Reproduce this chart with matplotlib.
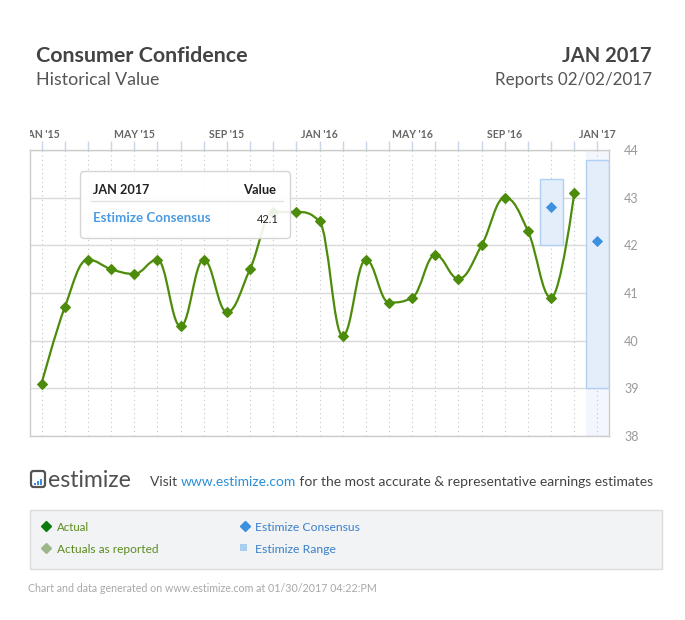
import matplotlib
matplotlib.use("Agg")
import matplotlib.pyplot as plt
from matplotlib.path import Path
from matplotlib.patches import PathPatch, Rectangle, FancyBboxPatch

# ---------------- data ----------------
month_labels = ["JAN '15", "FEB '15", "MAR '15", "APR '15", "MAY '15", "JUN '15",
                "JUL '15", "AUG '15", "SEP '15", "OCT '15", "NOV '15", "DEC '15",
                "JAN '16", "FEB '16", "MAR '16", "APR '16", "MAY '16", "JUN '16",
                "JUL '16", "AUG '16", "SEP '16", "OCT '16", "NOV '16", "DEC '16",
                "JAN '17"]
actual = [39.1, 40.7, 41.7, 41.5, 41.4, 41.7, 40.3, 41.7, 40.6, 41.5, 42.7, 42.7,
          42.5, 40.1, 41.7, 40.8, 40.9, 41.8, 41.3, 42.0, 43.0, 42.3, 40.9, 43.1]
consensus_months = ["NOV '16", "JAN '17"]
consensus = [42.8, 42.1]
range_low = [42.0, 39.0]
range_high = [43.4, 43.8]
y_ticks = [38, 39, 40, 41, 42, 43, 44]

plt.rcParams['font.family'] = ['Lato', 'DejaVu Sans']

W, H = 685, 620
fig = plt.figure(figsize=(W / 100, H / 100), dpi=100)
fig.patch.set_facecolor('white')

# plot area (pixels): left 30, right 609, top 150, bottom 436
ax = fig.add_axes([30 / W, (H - 436) / H, 579 / W, 286 / H])
ax.set_xlim(-0.5, len(month_labels) - 0.5)
ax.set_ylim(y_ticks[0], y_ticks[-1])

GREEN = '#4c8c0a'
BLUE = '#3d8fe0'

# highlight column of hovered month
hx = month_labels.index("JAN '17")
ax.axvspan(hx - 0.5, hx + 0.5, color='#f3f7fd', zorder=0.5, lw=0)

# estimize ranges
for m, lo, hi in zip(consensus_months, range_low, range_high):
    xi = month_labels.index(m)
    ax.add_patch(Rectangle((xi - 0.5, lo), 1.0, hi - lo, facecolor='#e4eefa',
                           edgecolor='#afd0f2', lw=1, zorder=1.5))


# Highcharts-like spline
def spline_path(xs, ys, smoothing=1.5):
    n = len(xs)
    left = [None] * n
    right = [None] * n
    for i in range(1, n - 1):
        lx, ly = xs[i - 1], ys[i - 1]
        nx, ny = xs[i + 1], ys[i + 1]
        px, py = xs[i], ys[i]
        d = smoothing + 1
        lcx = (smoothing * px + lx) / d
        lcy = (smoothing * py + ly) / d
        rcx = (smoothing * px + nx) / d
        rcy = (smoothing * py + ny) / d
        if rcx != lcx:
            corr = ((rcy - lcy) * (rcx - px)) / (rcx - lcx) + py - rcy
            lcy += corr
            rcy += corr
        if lcy > ly and lcy > py:
            lcy = max(ly, py); rcy = 2 * py - lcy
        elif lcy < ly and lcy < py:
            lcy = min(ly, py); rcy = 2 * py - lcy
        if rcy > ny and rcy > py:
            rcy = max(ny, py); lcy = 2 * py - rcy
        elif rcy < ny and rcy < py:
            rcy = min(ny, py); lcy = 2 * py - rcy
        left[i] = (lcx, lcy)
        right[i] = (rcx, rcy)
    verts = [(xs[0], ys[0])]
    codes = [Path.MOVETO]
    for i in range(1, n):
        c1 = right[i - 1] if right[i - 1] else (xs[i - 1], ys[i - 1])
        c2 = left[i] if left[i] else (xs[i], ys[i])
        verts += [c1, c2, (xs[i], ys[i])]
        codes += [Path.CURVE4] * 3
    return Path(verts, codes)


xs = list(range(len(actual)))
ax.add_patch(PathPatch(spline_path(xs, actual), facecolor='none', edgecolor=GREEN,
                       lw=1.6, zorder=3, capstyle='round', joinstyle='round'))
ax.plot(xs, actual, ls='none', marker='D', ms=4.8, mfc=GREEN, mec=GREEN, mew=0.8, zorder=4)

cx = [month_labels.index(m) for m in consensus_months]
ax.plot(cx, consensus, ls='none', marker='D', ms=4.6, mfc=BLUE, mec=BLUE, mew=0.6, zorder=4)

# axes styling
ax.set_xticks(range(len(month_labels)))
ax.set_xticklabels([m if i % 4 == 0 else '' for i, m in enumerate(month_labels)])
ax.tick_params(axis='x', top=True, bottom=False, labeltop=True, labelbottom=False,
               length=6.5, width=1, color='#c5d6ea', pad=0.5, labelcolor='#666666',
               labelsize=7.6)
for lbl in ax.get_xticklabels():
    lbl.set_fontweight('bold')
ax.set_yticks(y_ticks)
ax.yaxis.tick_right()
ax.tick_params(axis='y', length=0, pad=11, labelcolor='#9a9a9a', labelsize=9)
ax.grid(axis='x', ls=(0, (1, 3)), color='#c4c4c4', lw=0.8, zorder=0)
ax.grid(axis='y', color='#dadada', lw=1, zorder=0)
ax.set_axisbelow(True)
for s in ax.spines.values():
    s.set_color('#cccccc')
    s.set_linewidth(1)

# ---------------- overlay (pixel coordinates) ----------------
ov = fig.add_axes([0, 0, 1, 1])
ov.set_xlim(0, W)
ov.set_ylim(H, 0)
ov.axis('off')
ov.patch.set_alpha(0)

renderer = fig.canvas.get_renderer()


def fit(x, y, s, width, ha='left', **kw):
    t = ov.text(x, y, s, ha=ha, va='baseline', **kw)
    bb = t.get_window_extent(renderer)
    t.set_fontsize(t.get_fontsize() * width / bb.width)
    return t


# clip JAN '15 label at plot left edge
ov.add_patch(Rectangle((0, 126), 30, 21, facecolor='white', edgecolor='none'))

# header
fit(36, 62, 'Consumer Confidence', 212, fontsize=14, fontweight='bold', color='#444444')
fit(36, 85, 'Historical Value', 123, fontsize=12, color='#555555')
fit(652, 62, 'JAN 2017', 90, ha='right', fontsize=14, fontweight='bold', color='#444444')
fit(652, 85, 'Reports 02/02/2017', 156, ha='right', fontsize=12, color='#555555')

# tooltip
ov.add_patch(FancyBboxPatch((80.5, 171.5), 210, 67, boxstyle='round,pad=0,rounding_size=4',
                            facecolor=(1, 1, 1, 0.9), edgecolor='#d5d5d5', lw=1, zorder=5))
fit(93, 194, 'JAN 2017', 56, fontsize=9, fontweight='bold', color='#222222', zorder=6)
fit(276, 194, 'Value', 33, ha='right', fontsize=9, fontweight='bold', color='#222222', zorder=6)
ov.plot([91, 283], [201, 201], color='#e3e3e3', lw=1, zorder=6)
fit(93, 222, 'Estimize Consensus', 117, fontsize=9, fontweight='bold', color='#4a9be2', zorder=6)
fit(279, 223, f'{consensus[-1]:.1f}', 22, ha='right', fontsize=9, color='#222222', zorder=6)

# logo
ov.add_patch(FancyBboxPatch((31, 471), 14, 16, boxstyle='round,pad=0,rounding_size=2.5',
                            facecolor='none', edgecolor='#555555', lw=1.6))
for bx, bh in [(34, 2), (37, 4), (40, 6)]:
    ov.add_patch(Rectangle((bx, 485 - bh), 2, bh, facecolor='#3d8fe0', edgecolor='none'))
fit(48, 487, 'estimize', 83, fontsize=15, color='#505050')

# visit line
pieces = [('Visit ', '#444444'), ('www.estimize.com', '#2a8fd6'),
          (' for the most accurate & representative earnings estimates', '#444444')]
texts = []
xpos = 150
for s, c in pieces:
    t = ov.text(xpos, 486, s, ha='left', va='baseline', fontsize=10, color=c)
    texts.append(t)
total = sum(t.get_window_extent(renderer).width for t in texts)
scale = 501 / total
xpos = 150
for t in texts:
    t.set_fontsize(10 * scale)
    t.set_x(xpos)
    xpos += t.get_window_extent(renderer).width

# legend box
ov.add_patch(Rectangle((30.5, 509.5), 632, 59, facecolor='#f2f3f5', edgecolor='#dcdcdc', lw=1))
ov.plot([46], [526], ls='none', marker='D', ms=5, mfc='#0c7a0c', mec='#0c7a0c')
fit(57, 531, 'Actual', 32, fontsize=8.5, color='#5b8c1e')
ov.plot([46], [548], ls='none', marker='D', ms=5, mfc='#9db78a', mec='#9db78a')
fit(57, 553, 'Actuals as reported', 102, fontsize=8.5, color='#5b8c1e')
ov.plot([245], [526], ls='none', marker='D', ms=5, mfc=BLUE, mec=BLUE)
fit(255, 531, 'Estimize Consensus', 104, fontsize=8.5, color='#3a80c8')
ov.add_patch(Rectangle((240.5, 544), 7, 7, facecolor='#a9cdef', edgecolor='none'))
fit(255, 553, 'Estimize Range', 81, fontsize=8.5, color='#3a80c8')

# footer
fit(28, 592, 'Chart and data generated on www.estimize.com at 01/30/2017 04:22:PM', 347,
    fontsize=7.5, color='#a8a8a8')

fig.savefig('out.png', dpi=100, facecolor='white')
